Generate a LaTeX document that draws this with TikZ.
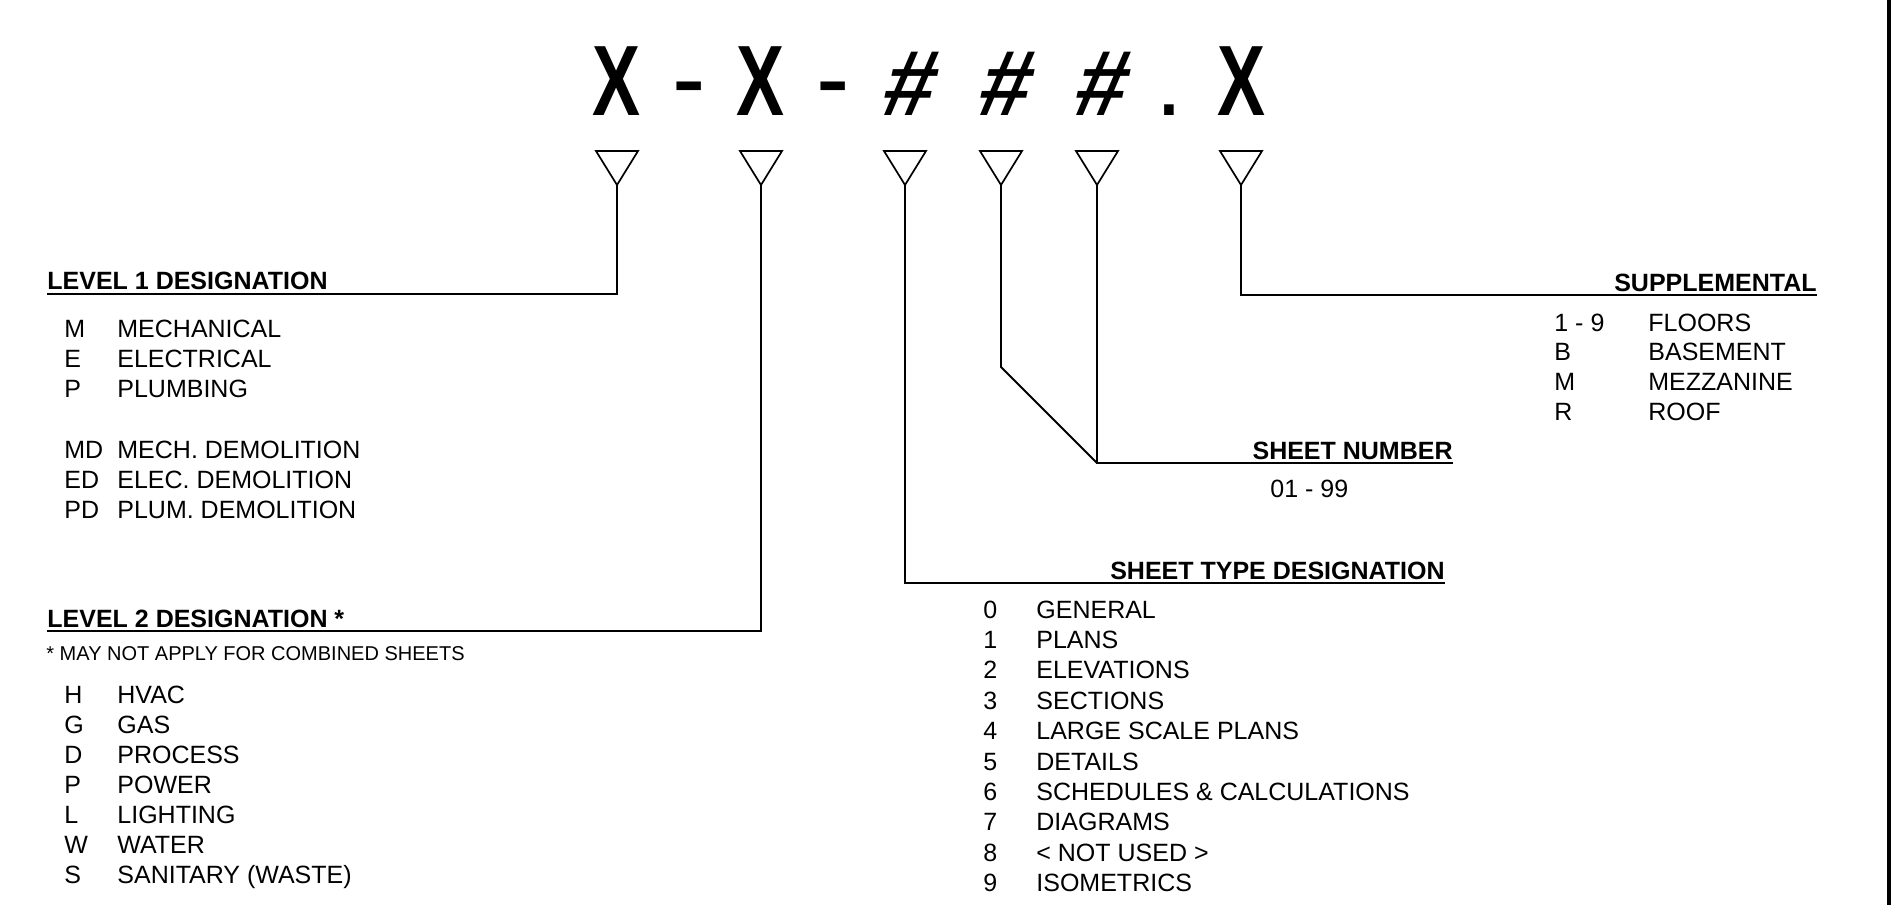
\documentclass[tikz,border=0pt]{standalone}
\usepackage{graphicx}
\usepackage{fontspec}
\setmainfont{Liberation Sans}
\newfontfamily\hashfont[FakeSlant=0.22,BoldFeatures={FakeSlant=0.22}]{Liberation Sans}
\usetikzlibrary{positioning}

\begin{document}
\begin{tikzpicture}[x=0.5pt,y=-0.5pt,
  code/.style={font=\fontsize{50}{50}\selectfont,inner sep=0,anchor=base},
  tri/.style={draw,line width=0.85pt,line join=miter},
  lead/.style={draw,line width=0.95pt},
  ttl/.style={font=\fontsize{12.5}{15}\selectfont\bfseries,inner sep=0},
  item/.style={font=\fontsize{12.5}{15}\selectfont,inner sep=0,anchor=base west},
  note/.style={font=\fontsize{10}{12}\selectfont,inner sep=0,anchor=base west}]
  \useasboundingbox (0,0) rectangle (1902,905);
  % sheet number format
  \node[code] (cx1) at (617,115) {\scalebox{0.72}[1]{\bfseries X}};
  \node[code] (cd1) at (689,115) {\scalebox{1}[1.1]{-}};
  \node[code] (cx2) at (761,115) {\scalebox{0.72}[1]{\bfseries X}};
  \node[code] (cd2) at (833,115) {\scalebox{1}[1.1]{-}};
  \node[code] (ch1) at (905,115) {\scalebox{0.92}[0.93]{\hashfont\bfseries\#}};
  \node[code] (ch2) at (1001,115) {\scalebox{0.92}[0.93]{\hashfont\bfseries\#}};
  \node[code] (ch3) at (1097,115) {\scalebox{0.92}[0.93]{\hashfont\bfseries\#}};
  \node[code] (cdot) at (1169,115) {.};
  \node[code] (cx3) at (1241,115) {\scalebox{0.72}[1]{\bfseries X}};
  % pointers
  \foreach \x/\n in {617/a,761/b,905/c,1001/d,1097/e,1241/f}{
    \draw[tri] (\x-21,151) -- (\x+21,151) -- (\x,185) -- cycle;
    \coordinate (t\n) at (\x,185);
  }
  % titles
  \node[ttl,anchor=base west] (l1title) at (47,289) {LEVEL 1 DESIGNATION};
  \node[ttl,anchor=base west] (l2title) at (47,627) {LEVEL 2 DESIGNATION *};
  \node[ttl,anchor=base east] (sttitle) at (1445,579) {SHEET TYPE DESIGNATION};
  \node[ttl,anchor=base east] (sntitle) at (1453,459) {SHEET NUMBER};
  \node[ttl,anchor=base east] (sptitle) at (1817,291) {SUPPLEMENTAL};
  \coordinate (l1end) at (47,294);
  \coordinate (l2end) at (47,631);
  \coordinate (stend) at (1445,583);
  \coordinate (snend) at (1453,463);
  \coordinate (spend) at (1817,295);
  \coordinate (snbend) at (1001,367);
  \coordinate (snjoin) at (1097,463);
  % leaders
  \draw[lead] (ta) |- (l1end);
  \draw[lead] (tb) |- (l2end);
  \draw[lead] (tc) |- (stend);
  \draw[lead] (td) -- (snbend) -- (snjoin);
  \draw[lead] (te) |- (snend);
  \draw[lead] (tf) |- (spend);
  % level 1
  \foreach \y/\c/\t [count=\i] in {337/M/MECHANICAL,367/E/ELECTRICAL,397/P/PLUMBING,
    458/MD/MECH. DEMOLITION,488/ED/ELEC. DEMOLITION,518/PD/PLUM. DEMOLITION}{
    \node[item] (l1c\i) at (64,\y) {\c};
    \node[item] (l1t\i) at (117,\y) {\t};
  }
  % level 2
  \node[note] (l2note) at (46,660) {* MAY NOT APPLY FOR COMBINED SHEETS};
  \foreach \c/\t [count=\i from 0] in {H/HVAC,G/GAS,D/PROCESS,P/POWER,L/LIGHTING,
    W/WATER,S/SANITARY (WASTE)}{
    \node[item] (l2c\i) at (64,703+30*\i) {\c};
    \node[item] (l2t\i) at (117,703+30*\i) {\t};
  }
  % sheet type
  \foreach \t [count=\i from 0] in {GENERAL,PLANS,ELEVATIONS,SECTIONS,
    LARGE SCALE PLANS,DETAILS,SCHEDULES \& CALCULATIONS,DIAGRAMS,
    < NOT USED >,ISOMETRICS}{
    \node[item] (stc\i) at (983,618+30.4*\i) {\i};
    \node[item] (stt\i) at (1036,618+30.4*\i) {\t};
  }
  % sheet number
  \node[item] (snrange) at (1270,497) {01 - 99};
  % supplemental
  \foreach \c/\t [count=\i from 0] in {1 - 9/FLOORS,B/BASEMENT,M/MEZZANINE,R/ROOF}{
    \node[item] (spc\i) at (1554,331+29.8*\i) {\c};
    \node[item] (spt\i) at (1648,331+29.8*\i) {\t};
  }
  % sheet edge
  \draw[line width=2.25pt] (1889,0) -- (1889,905);
\end{tikzpicture}
\end{document}
